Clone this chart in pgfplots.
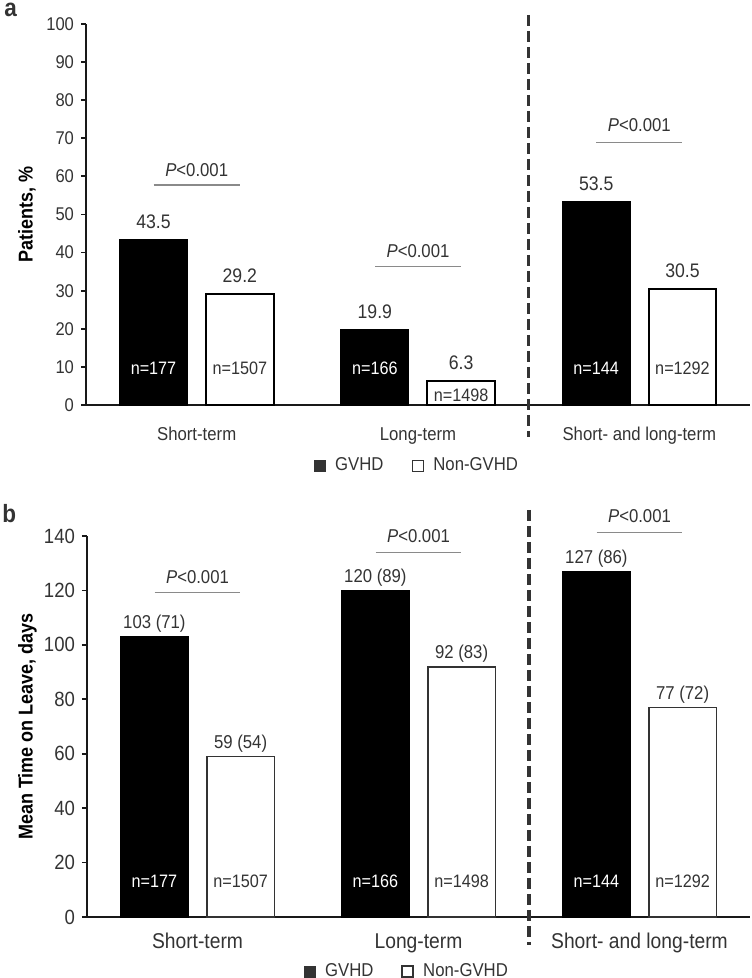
\documentclass[border=0pt]{standalone}
\usepackage{fontspec}
\setmainfont{Liberation Sans}[FakeStretch=0.9]
\usepackage{pgfplots}
\pgfplotsset{compat=1.18}
\definecolor{tgray}{HTML}{333333}
\definecolor{pgray}{HTML}{8A8A8A}
\pgfplotsset{
  mybase/.style={
    scale only axis,
    axis lines=left,
    axis line style={-, line width=0.9pt, draw=black!90},
    xmin=-0.5, xmax=2.5, ymin=0,
    xtick={0,1,2},
    xticklabels={Short-term, Long-term, Short- and long-term},
    x tick style={draw=none},
    y tick style={line width=0.9pt, draw=black!90},
    major tick length=2.5pt,
    tick align=outside,
    clip=false,
    /pgf/number format/assume math mode=true,
    tick label style={text=tgray},
    legend columns=2,
    legend cell align=left,
    legend style={draw=none, fill=none, text=tgray, inner sep=0pt,
      /tikz/every odd column/.append style={column sep=2.5pt},
      /tikz/every even column/.append style={column sep=12pt}},
  },
  sq/.style={legend image code/.code={\draw[##1] (0pt,-2.75pt) rectangle (5.5pt,2.75pt);}},
}
\begin{document}
\begin{tikzpicture}
\path[use as bounding box] (0,0) rectangle (375.5pt,489pt);
% ---------- panel a ----------
\begin{axis}[mybase,
  at={(43pt,286.5pt)}, anchor=south west,
  width=332pt, height=190.5pt,
  ymax=100, ytick={0,10,...,100},
  yticklabel style={font=\fontsize{9.2}{10}\selectfont},
  xticklabel style={font=\fontsize{9.3}{10}\selectfont, anchor=base, yshift=-15.5pt},
  ylabel={\textbf{Patients, \%}},
  ylabel style={font=\fontsize{12}{13}\selectfont, text=tgray},
  every axis y label/.style={at={(axis description cs:-0.0889,0.5)}, rotate=90, anchor=center},
  legend style={at={(0.5,-0.16)}, anchor=center, font=\fontsize{9.3}{10}\selectfont},
]
\addlegendimage{sq, fill=tgray, draw=tgray, line width=0.6pt}
\addlegendentry{GVHD}
\addlegendimage{sq, fill=white, draw=tgray, line width=0.9pt}
\addlegendentry{Non-GVHD}
\addplot[ybar, bar width=0.307, bar shift=-0.195, fill=black, draw=black, forget plot]
  coordinates {(0,43.5) (1,19.9) (2,53.5)};
\addplot[ybar, bar width=0.307, bar shift=0.195, fill=white, draw=black, line width=1pt, forget plot]
  coordinates {(0,29.2) (1,6.3) (2,30.5)};
% divider
\addplot[tgray, line width=1.6pt, dash pattern=on 5.5pt off 2.5pt, forget plot]
  coordinates {(1.5,102.4) (1.5,-8.4)};
% p-value lines
\addplot[pgray, line width=0.7pt, forget plot] coordinates {(-0.194,57.7) (0.194,57.7)};
\addplot[pgray, line width=0.7pt, forget plot] coordinates {(0.806,36.3) (1.194,36.3)};
\addplot[pgray, line width=0.7pt, forget plot] coordinates {(1.806,68.9) (2.194,68.9)};
\begin{scope}[every node/.style={anchor=base, text=tgray, font=\fontsize{9.3}{10}\selectfont}]
\node at (axis cs:0,60.1) {\textit{P}<0.001};
\node at (axis cs:1,38.8) {\textit{P}<0.001};
\node at (axis cs:2,71.7) {\textit{P}<0.001};
\end{scope}
\begin{scope}[every node/.style={anchor=base, text=tgray, font=\fontsize{9.8}{10}\selectfont, yshift=5.5pt}]
\node at (axis cs:-0.195,43.5) {43.5};
\node at (axis cs:0.195,29.2) {29.2};
\node at (axis cs:0.805,19.9) {19.9};
\node at (axis cs:1.195,6.3) {6.3};
\node at (axis cs:1.805,53.5) {53.5};
\node at (axis cs:2.195,30.5) {30.5};
\end{scope}
\begin{scope}[every node/.style={anchor=base, font=\fontsize{9}{10}\selectfont}]
\node[text=white] at (axis cs:-0.195,8.0) {n=177};
\node[text=tgray] at (axis cs:0.195,8.0) {n=1507};
\node[text=white] at (axis cs:0.805,8.0) {n=166};
\node[text=tgray] at (axis cs:1.195,0.8) {n=1498};
\node[text=white] at (axis cs:1.805,8.0) {n=144};
\node[text=tgray] at (axis cs:2.195,8.0) {n=1292};
\end{scope}
\end{axis}
% ---------- panel b ----------
\begin{axis}[mybase,
  at={(43.5pt,30.5pt)}, anchor=south west,
  width=331.5pt, height=190.5pt,
  ymax=140, ytick={0,20,...,140},
  yticklabel style={font=\fontsize{10.3}{11}\selectfont},
  xticklabel style={font=\fontsize{10.7}{12}\selectfont, anchor=base, yshift=-13pt},
  ylabel={\textbf{Mean Time on Leave, days}},
  ylabel style={font=\fontsize{11.7}{12}\selectfont, text=tgray},
  every axis y label/.style={at={(axis description cs:-0.0897,0.5)}, rotate=90, anchor=center},
  legend style={at={(0.484,-0.144)}, anchor=center, font=\fontsize{9.3}{10}\selectfont},
]
\addlegendimage{sq, fill=tgray, draw=tgray, line width=0.6pt}
\addlegendentry{GVHD}
\addlegendimage{sq, fill=white, draw=tgray, line width=0.9pt}
\addlegendentry{Non-GVHD}
\addplot[ybar, bar width=0.307, bar shift=-0.195, fill=black, draw=black, forget plot]
  coordinates {(0,103) (1,120) (2,127)};
\addplot[ybar, bar width=0.307, bar shift=0.195, fill=white, draw=tgray, line width=0.9pt, forget plot]
  coordinates {(0,59) (1,92) (2,77)};
\addplot[tgray, line width=1.6pt, dash pattern=on 5.5pt off 2.5pt, forget plot]
  coordinates {(1.5,149.6) (1.5,-10.3)};
\addplot[pgray, line width=0.7pt, forget plot] coordinates {(-0.194,119.2) (0.194,119.2)};
\addplot[pgray, line width=0.7pt, forget plot] coordinates {(0.806,133.9) (1.194,133.9)};
\addplot[pgray, line width=0.7pt, forget plot] coordinates {(1.806,141.2) (2.194,141.2)};
\begin{scope}[every node/.style={anchor=base, text=tgray, font=\fontsize{9.3}{10}\selectfont}]
\node at (axis cs:0,122.4) {\textit{P}<0.001};
\node at (axis cs:1,137.5) {\textit{P}<0.001};
\node at (axis cs:2,144.9) {\textit{P}<0.001};
\end{scope}
\begin{scope}[every node/.style={anchor=base, text=tgray, font=\fontsize{9.3}{10}\selectfont, yshift=4pt}]
\node at (axis cs:-0.195,103) {103 (71)};
\node at (axis cs:0.195,59) {59 (54)};
\node at (axis cs:0.805,120) {120 (89)};
\node at (axis cs:1.195,92) {92 (83)};
\node at (axis cs:1.805,127) {127 (86)};
\node at (axis cs:2.195,77) {77 (72)};
\end{scope}
\begin{scope}[every node/.style={anchor=base, font=\fontsize{9}{10}\selectfont}]
\node[text=white] at (axis cs:-0.195,11) {n=177};
\node[text=tgray] at (axis cs:0.195,11) {n=1507};
\node[text=white] at (axis cs:0.805,11) {n=166};
\node[text=tgray] at (axis cs:1.195,11) {n=1498};
\node[text=white] at (axis cs:1.805,11) {n=144};
\node[text=tgray] at (axis cs:2.195,11) {n=1292};
\end{scope}
\end{axis}
\node[anchor=base west, inner sep=0pt, font=\fontsize{12.5}{13}\selectfont\bfseries, text=tgray] at (2pt,480.5pt) {a};
\node[anchor=base west, inner sep=0pt, font=\fontsize{12.5}{13}\selectfont\bfseries, text=tgray] at (1pt,227.5pt) {b};
\end{tikzpicture}
\end{document}
